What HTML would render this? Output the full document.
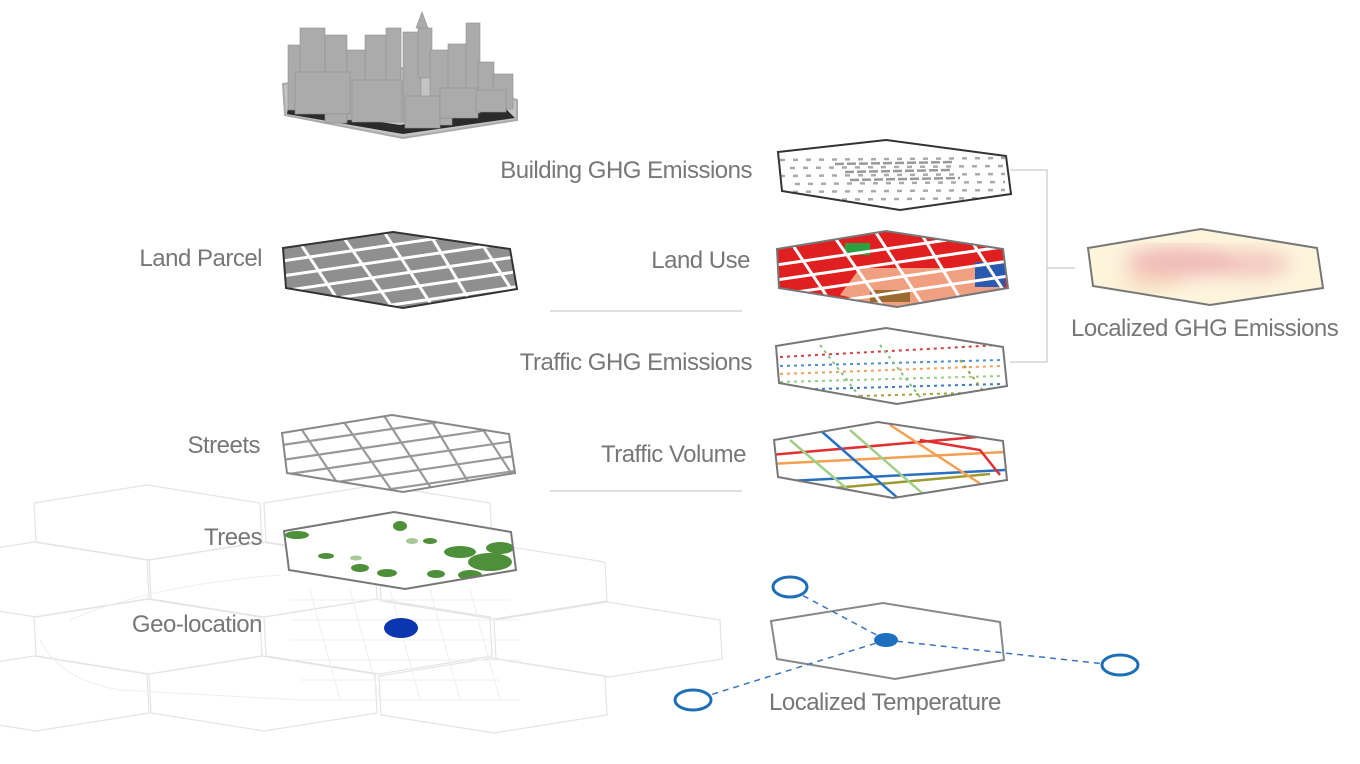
<!DOCTYPE html>
<html><head><meta charset="utf-8"><style>
html,body{margin:0;padding:0;background:#fff;}
svg{display:block;}
text{font-family:"Liberation Sans",sans-serif;font-size:24px;fill:#777;letter-spacing:-0.5px;}
</style></head><body>
<svg width="1360" height="764" viewBox="0 0 1360 764" xmlns="http://www.w3.org/2000/svg">
<defs>
<polygon id="pLP" points="283,248 393,232 510,249 517,289 403,308 286,288"/>
<polygon id="pBG" points="778,152 886,140 1006,156 1011,194 900,210 782,191"/>
<polygon id="pLU" points="777,249 886,231 1003,249 1008,288 897,307 779,288"/>
<polygon id="pTG" points="776,346 886,328 1003,347 1007,386 897,404 779,383"/>
<polygon id="pTV" points="774,440 878,422 1003,441 1007,480 893,498 778,477"/>
<polygon id="pST" points="282,433 392,415 509,434 515,473 403,492 287,473"/>
<polygon id="pTR" points="284,531 394,512 511,532 516,570 405,589 289,570"/>
<polygon id="pLG" points="1088,248 1201,229 1317,248 1323,288 1210,305 1093,286"/>
<clipPath id="cLP"><use href="#pLP"/></clipPath>
<clipPath id="cBG"><use href="#pBG"/></clipPath>
<clipPath id="cLU"><use href="#pLU"/></clipPath>
<clipPath id="cTG"><use href="#pTG"/></clipPath>
<clipPath id="cTV"><use href="#pTV"/></clipPath>
<clipPath id="cST"><use href="#pST"/></clipPath>
<clipPath id="cTR"><use href="#pTR"/></clipPath>
<clipPath id="cLG"><use href="#pLG"/></clipPath>
<filter id="bl"><feGaussianBlur stdDeviation="9"/></filter>
<g id="streets">
<path d="M0,30 L260,-8 M0,45 L260,7 M0,60 L260,22 M0,75 L260,37 M0,90 L260,52 M0,105 L260,67"/>
<path d="M10,0 L70,90 M50,-10 L120,90 M95,-10 L160,90 M140,-10 L200,90 M185,-10 L250,90 M225,-10 L270,70"/>
</g>
<polygon id="hx" points="-113,18 0,0 113,18 115,57 2,75 -111,57"/>
</defs>

<!-- background faint hex grid -->
<g fill="none" stroke="#e4e4e4" stroke-width="1.2">
<use href="#hx" x="147" y="485"/><use href="#hx" x="377" y="485"/>
<use href="#hx" x="34" y="542"/><use href="#hx" x="262" y="542"/><use href="#hx" x="492" y="544"/>
<use href="#hx" x="147" y="599"/><use href="#hx" x="377" y="599"/><use href="#hx" x="607" y="602"/>
<use href="#hx" x="34" y="656"/><use href="#hx" x="262" y="656"/><use href="#hx" x="492" y="658"/>
</g>
<g fill="none" stroke="#efefef" stroke-width="1">
<path d="M290,600 L510,600 M290,620 L520,620 M290,640 L520,640 M290,660 L520,660 M300,680 L500,680"/>
<path d="M310,590 L340,700 M350,590 L380,700 M390,590 L420,700 M430,590 L460,700 M470,590 L500,700"/>
<path d="M40,640 Q60,680 120,690 L300,700 L520,700 M70,620 Q150,585 280,575"/>
</g>

<!-- city model -->
<polygon points="283,84 400,68 517,100 517,120 403,138 285,115" fill="#c4c4c4" stroke="#aaa" stroke-width="2"/>
<polygon points="288,108 400,125 505,108 515,118 403,134 287,114" fill="#2b2b2b"/>
<g fill="#ababab" stroke="#909090" stroke-width="0.6">
<rect x="288" y="45" width="20" height="65"/><rect x="300" y="28" width="25" height="82"/>
<rect x="325" y="35" width="22" height="88"/><rect x="347" y="50" width="20" height="70"/>
<rect x="365" y="35" width="22" height="85"/><rect x="386" y="28" width="15" height="92"/>
<rect x="403" y="32" width="18" height="90"/><rect x="418" y="28" width="14" height="50"/>
<polygon points="416,28 422,12 428,28"/>
<rect x="430" y="50" width="22" height="75"/><rect x="448" y="44" width="20" height="70"/>
<rect x="466" y="23" width="14" height="90"/><rect x="478" y="62" width="16" height="45"/>
<rect x="493" y="74" width="20" height="35"/><rect x="295" y="72" width="55" height="42"/>
<rect x="352" y="80" width="50" height="42"/><rect x="405" y="96" width="35" height="32"/>
<rect x="440" y="88" width="38" height="30"/><rect x="476" y="90" width="30" height="22"/>
</g>

<!-- Land Parcel -->
<use href="#pLP" fill="#8f8f8f"/>
<g clip-path="url(#cLP)" stroke="#fff" stroke-width="3" fill="none"><use href="#streets" x="282" y="231"/></g>
<use href="#pLP" fill="none" stroke="#333" stroke-width="2"/>

<!-- Streets -->
<use href="#pST" fill="#fff"/>
<g clip-path="url(#cST)" stroke="#999" stroke-width="2.2" fill="none"><use href="#streets" x="282" y="415"/></g>
<use href="#pST" fill="none" stroke="#888" stroke-width="2"/>

<!-- Trees -->
<use href="#pTR" fill="#fff"/>
<g clip-path="url(#cTR)" fill="#4e8f3a">
<ellipse cx="297" cy="535" rx="12" ry="4"/><ellipse cx="326" cy="556" rx="8" ry="3"/>
<ellipse cx="360" cy="568" rx="9" ry="4"/><ellipse cx="387" cy="573" rx="10" ry="4"/>
<ellipse cx="400" cy="526" rx="7" ry="5"/><ellipse cx="436" cy="574" rx="9" ry="4"/>
<ellipse cx="430" cy="541" rx="7" ry="3"/><ellipse cx="460" cy="552" rx="16" ry="6"/>
<ellipse cx="490" cy="562" rx="22" ry="9"/><ellipse cx="500" cy="548" rx="14" ry="6"/>
<ellipse cx="470" cy="575" rx="12" ry="5"/>
<ellipse cx="356" cy="558" rx="6" ry="2.5" fill="#a8c89a"/><ellipse cx="412" cy="541" rx="6" ry="3" fill="#a8c89a"/>
</g>
<use href="#pTR" fill="none" stroke="#777" stroke-width="2"/>

<!-- Geo location -->
<ellipse cx="401" cy="628" rx="17" ry="10" fill="#0a36b0"/>

<!-- Building GHG -->
<use href="#pBG" fill="#fff"/>
<g clip-path="url(#cBG)" stroke="#aaa" stroke-width="2.5" stroke-dasharray="5 8" fill="none">
<path d="M780,160 L1005,158 M790,168 L1005,166 M780,176 L1005,174 M795,184 L1005,182 M780,192 L1005,190 M790,200 L1005,198"/>
<path d="M835,164 L955,162 M845,172 L950,170 M850,180 L960,178" stroke="#999" stroke-dasharray="9 3"/>
</g>
<use href="#pBG" fill="none" stroke="#333" stroke-width="2"/>

<!-- Land Use -->
<use href="#pLU" fill="#e02020"/>
<g clip-path="url(#cLU)">
<polygon points="860,268 1000,268 1005,305 900,310 840,295" fill="#f0a080"/>
<rect x="845" y="243" width="25" height="12" fill="#2aa040"/>
<rect x="975" y="262" width="30" height="25" fill="#2a5ab0"/>
<rect x="870" y="290" width="40" height="12" fill="#9a6a30"/>
<g stroke="#fff" stroke-width="3" fill="none"><use href="#streets" x="776" y="235"/></g>
</g>
<use href="#pLU" fill="none" stroke="#777" stroke-width="2"/>

<!-- Traffic GHG -->
<use href="#pTG" fill="#fff"/>
<g clip-path="url(#cTG)" fill="none" stroke-width="2" stroke-dasharray="3 4">
<path d="M780,357 L1000,345" stroke="#d04040"/><path d="M780,366 L1000,360" stroke="#4a90d0"/>
<path d="M780,374 L1000,366" stroke="#f0a060"/><path d="M780,382 L1000,376" stroke="#99cc88"/>
<path d="M780,390 L1000,384" stroke="#3a7ac0"/><path d="M790,398 L1000,392" stroke="#a0a040"/>
<path d="M820,345 L870,410 M880,345 L930,410" stroke="#88c080"/><path d="M960,360 L990,400" stroke="#a0a040"/>
</g>
<use href="#pTG" fill="none" stroke="#777" stroke-width="2"/>

<!-- Traffic Volume -->
<use href="#pTV" fill="#fff"/>
<g clip-path="url(#cTV)" fill="none" stroke-width="2.5">
<path d="M770,455 L1000,435" stroke="#e03030"/><path d="M770,464 L1005,452" stroke="#f5a050"/>
<path d="M770,482 L1005,470" stroke="#2a70c0"/><path d="M790,492 L990,474" stroke="#a09a30"/>
<path d="M790,440 L860,500 M850,430 L930,500" stroke="#9fd08a"/>
<path d="M820,430 L900,500" stroke="#2a70c0"/><path d="M890,425 L990,490" stroke="#f5a050"/>
<path d="M920,440 L980,450 L1000,475" stroke="#e03030"/>
</g>
<use href="#pTV" fill="none" stroke="#777" stroke-width="2"/>

<!-- Localized GHG -->
<use href="#pLG" fill="#fdf4dc"/>
<g clip-path="url(#cLG)" filter="url(#bl)">
<ellipse cx="1180" cy="262" rx="55" ry="15" fill="#eaa0a8" opacity="0.7"/>
<ellipse cx="1250" cy="264" rx="40" ry="13" fill="#eda8aa" opacity="0.6"/>
<ellipse cx="1150" cy="282" rx="30" ry="8" fill="#f5d0b0" opacity="0.7"/>
</g>
<use href="#pLG" fill="none" stroke="#777" stroke-width="2"/>

<!-- connectors -->
<g stroke="#ccc" stroke-width="1.3" fill="none">
<path d="M550,311 L742,311 M550,491 L742,491"/>
<path d="M1010,170 L1047,170 L1047,362 L1010,362 M1047,268 L1075,268"/>
</g>

<!-- Localized Temperature -->
<polygon points="771,621 883,603 1000,622 1004,660 895,679 777,659" fill="none" stroke="#888" stroke-width="2"/>
<g stroke="#3a74c0" stroke-width="1.5" stroke-dasharray="6 5" fill="none">
<path d="M886,640 L800,594 M886,640 L1105,664 M886,640 L710,695"/>
</g>
<ellipse cx="886" cy="640" rx="12" ry="7" fill="#1f6fc0"/>
<g fill="#fff" stroke="#1f6fb8" stroke-width="3">
<ellipse cx="790" cy="587" rx="17" ry="10"/>
<ellipse cx="1120" cy="665" rx="18" ry="10"/>
<ellipse cx="693" cy="700" rx="18" ry="10"/>
</g>

<!-- labels -->
<text x="752" y="178" text-anchor="end">Building GHG Emissions</text>
<text x="750" y="268" text-anchor="end">Land Use</text>
<text x="752" y="370" text-anchor="end">Traffic GHG Emissions</text>
<text x="746" y="462" text-anchor="end">Traffic Volume</text>
<text x="262" y="266" text-anchor="end">Land Parcel</text>
<text x="260" y="453" text-anchor="end">Streets</text>
<text x="262" y="545" text-anchor="end">Trees</text>
<text x="262" y="632" text-anchor="end">Geo-location</text>
<text x="1071" y="336">Localized GHG Emissions</text>
<text x="769" y="710">Localized Temperature</text>
</svg>
</body></html>
